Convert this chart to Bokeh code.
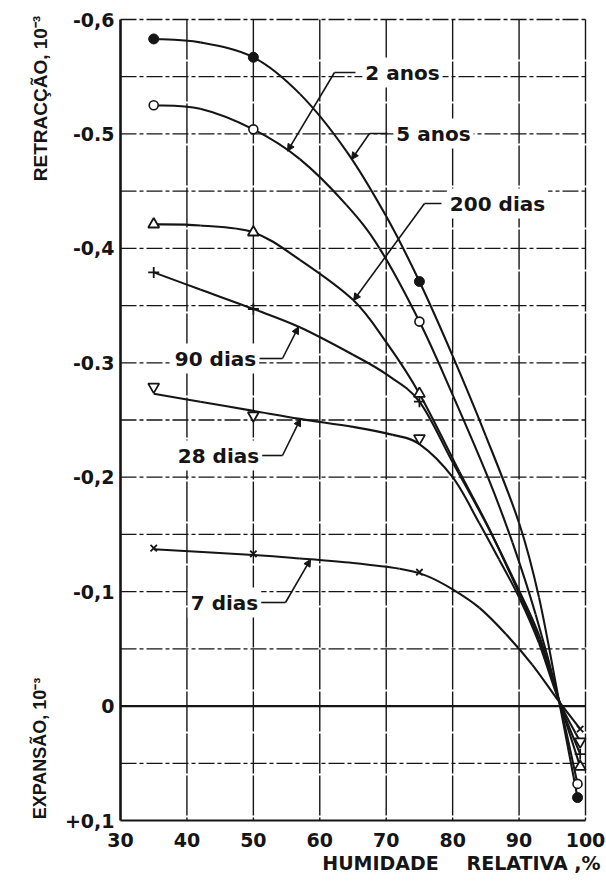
import numpy as np
from bokeh.plotting import figure
from bokeh.models import Range1d, FixedTicker, Label, Arrow, NormalHead
from bokeh.embed import file_html
from bokeh.resources import INLINE

# Measured points: relative humidity (%) vs strain (1e-3); negative = shrinkage
anos5_x = [35, 50, 75, 98.8]
anos5_y = [-0.583, -0.567, -0.371, 0.080]
anos2_x = [35, 50, 75, 98.8]
anos2_y = [-0.525, -0.504, -0.336, 0.068]
dias200_x = [35, 50, 75, 99.2]
dias200_y = [-0.421, -0.414, -0.273, 0.053]
dias90_x = [35, 50, 75, 99.2]
dias90_y = [-0.379, -0.347, -0.266, 0.042]
dias28_x = [35, 50, 75, 99.2]
dias28_y = [-0.279, -0.254, -0.234, 0.031]
dias7_x = [35, 50, 75, 99.2]
dias7_y = [-0.138, -0.133, -0.117, 0.020]

# Hand-fitted curves through each age
c5a_x = [35, 42, 50, 57, 64, 70, 75, 80, 85, 90, 93, 96, 98.8]
c5a_y = [-0.583, -0.580, -0.567, -0.535, -0.485, -0.428, -0.371, -0.306, -0.236, -0.160, -0.095, -0.005, 0.080]
c2a_x = [35, 42, 50, 57, 64, 69, 75, 80, 85.3, 89, 92.5, 96, 98.8]
c2a_y = [-0.525, -0.522, -0.504, -0.478, -0.438, -0.400, -0.336, -0.272, -0.200, -0.143, -0.080, -0.005, 0.068]
c200_x = [35, 42, 50, 57, 65, 70, 75, 81, 85.5, 89.5, 93, 96, 99.2]
c200_y = [-0.421, -0.420, -0.414, -0.390, -0.355, -0.318, -0.273, -0.205, -0.155, -0.105, -0.058, -0.005, 0.053]
c90_x = [35, 42, 50, 57, 65, 70, 75, 80, 85, 89, 93, 96, 99.2]
c90_y = [-0.379, -0.364, -0.347, -0.331, -0.307, -0.290, -0.266, -0.213, -0.160, -0.113, -0.062, -0.005, 0.042]
c28_x = [35, 42, 50, 57, 65, 71, 75, 80, 84, 87, 90, 93, 96, 99.2]
c28_y = [-0.273, -0.266, -0.258, -0.251, -0.244, -0.237, -0.229, -0.200, -0.160, -0.128, -0.095, -0.055, -0.005, 0.031]
c7_x = [35, 50, 57, 65, 72, 76, 80, 84, 88, 92, 96, 99.2]
c7_y = [-0.137, -0.132, -0.129, -0.125, -0.120, -0.114, -0.102, -0.086, -0.063, -0.036, -0.004, 0.020]

x_ticks = [30, 40, 50, 60, 70, 80, 90, 100]
y_ticks = [-0.6, -0.5, -0.4, -0.3, -0.2, -0.1, 0.0, 0.1]
y_tick_labels = ["-0,6", "-0.5", "-0,4", "-0.3", "-0,2", "-0,1", "0", "+0,1"]
y_grid = [-0.6, -0.55, -0.5, -0.45, -0.4, -0.35, -0.3, -0.25, -0.2, -0.15, -0.1, -0.05, 0.05]

FONT = "DejaVu Sans"
TITLE_FONT = "Liberation Sans"
INK = "#151515"

# canvas and the pixel box that holds the 30..100 / -0.6..+0.1 chart area
W, H = 606, 891
BOX_L, BOX_R, BOX_T, BOX_B = 120, 585, 19, 820
X0, X1 = x_ticks[0], x_ticks[-1]
Y_TOP, Y_BOT = y_ticks[0], y_ticks[-1]
SX = (BOX_R - BOX_L) / (X1 - X0)
SY = (BOX_B - BOX_T) / (Y_BOT - Y_TOP)


def dx(px):
    return X0 + (px - BOX_L) / SX


def dy(py):
    return Y_TOP + (py - BOX_T) / SY


p = figure(width=W, height=H,
           x_range=Range1d(dx(0), dx(W)), y_range=Range1d(dy(H), dy(0)),
           output_backend="svg", toolbar_location=None,
           min_border_left=0, min_border_right=0, min_border_top=0, min_border_bottom=0)
p.title.visible = False
p.outline_line_color = None
p.background_fill_color = "white"
p.border_fill_color = "white"
p.grid.visible = False

# axes sit inside the canvas so the titles beside them can be drawn too
for ax in (p.xaxis, p.yaxis):
    ax.major_tick_in = 0
    ax.major_tick_out = 0
    ax.minor_tick_in = 0
    ax.minor_tick_out = 0
    ax.axis_line_color = INK
    ax.major_label_text_font = FONT
    ax.major_label_text_font_style = "bold"
    ax.major_label_text_font_size = "19px"
    ax.major_label_text_color = INK
p.xaxis.fixed_location = Y_BOT
p.xaxis.bounds = (X0, X1)
p.xaxis.ticker = FixedTicker(ticks=x_ticks)
p.xaxis.axis_line_width = 2
p.xaxis.major_label_standoff = 12
p.yaxis.fixed_location = X0
p.yaxis.bounds = (Y_TOP, Y_BOT)
p.yaxis.ticker = FixedTicker(ticks=y_ticks)
p.yaxis.major_label_overrides = {t: s for t, s in zip(y_ticks, y_tick_labels)}
p.yaxis.axis_line_width = 2.6
p.yaxis.major_label_standoff = 6

# grid lines
vx = x_ticks[1:]
p.segment(x0=vx, y0=[Y_TOP] * len(vx), x1=vx, y1=[Y_BOT] * len(vx),
          line_color=INK, line_width=1.4, line_dash="40 2")
p.segment(x0=[X0] * len(y_grid), y0=y_grid, x1=[X1] * len(y_grid), y1=y_grid,
          line_color=INK, line_width=1.3, line_dash="16 3 4 3")
p.segment(x0=[X0], y0=[0.0], x1=[X1], y1=[0.0], line_color=INK, line_width=2.2)


def smooth(xs, ys, **kw):
    """Draw a Catmull-Rom curve through the given points as cubic Bezier segments."""
    pts = np.column_stack([xs, ys]).astype(float)
    ext = np.vstack([pts[0], pts, pts[-1]])
    p0, p1, p2, p3 = ext[:-3], ext[1:-2], ext[2:-1], ext[3:]
    c0 = p1 + (p2 - p0) / 6.0
    c1 = p2 - (p3 - p1) / 6.0
    p.bezier(x0=p1[:, 0], y0=p1[:, 1], x1=p2[:, 0], y1=p2[:, 1],
             cx0=c0[:, 0], cy0=c0[:, 1], cx1=c1[:, 0], cy1=c1[:, 1], **kw)


for cx, cy in [(c5a_x, c5a_y), (c2a_x, c2a_y), (c200_x, c200_y),
               (c90_x, c90_y), (c28_x, c28_y), (c7_x, c7_y)]:
    smooth(cx, cy, line_color=INK, line_width=2.1)

p.scatter(anos5_x, anos5_y, marker="circle", size=10, fill_color=INK, line_color=INK)
p.scatter(anos2_x, anos2_y, marker="circle", size=9, fill_color="white", line_color=INK, line_width=1.6)
p.scatter(dias200_x, dias200_y, marker="triangle", size=11, fill_color="white", line_color=INK, line_width=1.8)
p.scatter(dias90_x, dias90_y, marker="cross", size=11, line_color=INK, line_width=1.8)
p.scatter(dias28_x, dias28_y, marker="inverted_triangle", size=11, fill_color="white", line_color=INK, line_width=1.8)
p.scatter(dias7_x, dias7_y, marker="x", size=9, line_color=INK, line_width=1.8)

# curve labels with leader arrows: (text, centre px, leader start px, bend px, tip px-x, curve)
callouts = [
    ("2 anos", (402, 72), (355, 72), (334, 72), 287, (c2a_x, c2a_y)),
    ("5 anos", (433, 133), (387, 133), (369, 133), 351, (c5a_x, c5a_y)),
    ("200 dias", (497, 203), (441, 203), (424, 203), 353, (c200_x, c200_y)),
    ("90 dias", (215, 358), (259, 358), (282, 358), 298, (c90_x, c90_y)),
    ("28 dias", (218, 455), (261, 455), (282, 455), 300, (c28_x, c28_y)),
    ("7 dias", (224, 602), (259, 602), (285, 602), 310, (c7_x, c7_y)),
]
for text, (tx, ty), (sx, sy), (bx, by), tipx, (cx, cy) in callouts:
    xt = dx(tipx)
    yt = float(np.interp(xt, cx, cy))
    p.line([dx(sx), dx(bx)], [dy(sy), dy(by)], line_color=INK, line_width=1.6)
    p.add_layout(Arrow(x_start=dx(bx), y_start=dy(by), x_end=xt, y_end=yt,
                       line_color=INK, line_width=1.6,
                       end=NormalHead(size=7, fill_color=INK, line_color=INK)))
    p.add_layout(Label(x=dx(tx), y=dy(ty), text=text, text_align="center", text_baseline="middle",
                       text_font=FONT, text_font_style="bold", text_font_size="20px",
                       text_color=INK, background_fill_color="white", padding=3))

# axis titles
p.add_layout(Label(x=dx(40), y=dy(98), text="RETRACÇÃO, 10⁻³", angle=np.pi / 2,
                   text_align="center", text_baseline="middle", text_font=TITLE_FONT,
                   text_font_style="bold", text_font_size="19px", text_color=INK))
p.add_layout(Label(x=dx(39), y=dy(748), text="EXPANSÃO, 10⁻³", angle=np.pi / 2,
                   text_align="center", text_baseline="middle", text_font=TITLE_FONT,
                   text_font_style="bold", text_font_size="18px", text_color=INK))
p.add_layout(Label(x=dx(380), y=dy(862), text="HUMIDADE",
                   text_align="center", text_baseline="middle", text_font=FONT,
                   text_font_style="bold", text_font_size="19px", text_color=INK))
p.add_layout(Label(x=dx(533), y=dy(862), text="RELATIVA ,%",
                   text_align="center", text_baseline="middle", text_font=FONT,
                   text_font_style="bold", text_font_size="19px", text_color=INK))

open("out.html", "w").write(file_html(p, INLINE))
